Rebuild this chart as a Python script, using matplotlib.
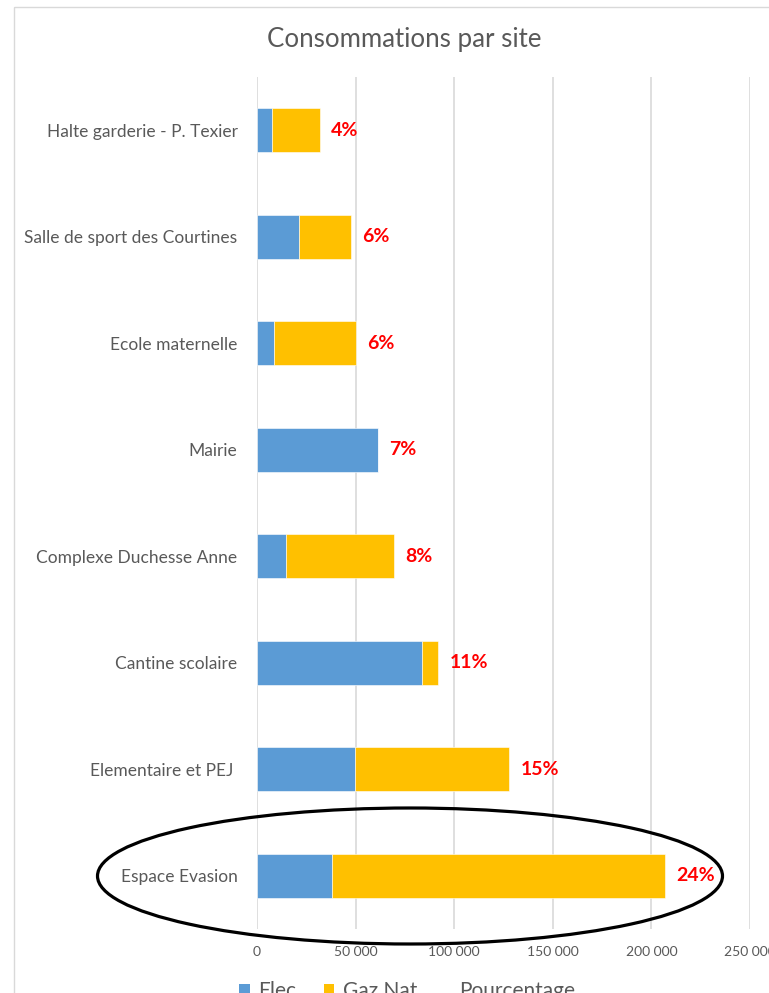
import matplotlib
matplotlib.use("Agg")
import matplotlib.pyplot as plt
from matplotlib.patches import Ellipse, Rectangle, Patch
from matplotlib.lines import Line2D
from matplotlib.ticker import FuncFormatter

# Consumption per site (kWh), listed top to bottom
sites = [
    "Halte garderie - P. Texier",
    "Salle de sport des Courtines",
    "Ecole maternelle",
    "Mairie",
    "Complexe Duchesse Anne",
    "Cantine scolaire",
    "Elementaire et PEJ ",
    "Espace Evasion",
]
elec = [7400, 21200, 8500, 61300, 14700, 83800, 49700, 37800]
gaz_nat = [24600, 26400, 41700, 0, 54700, 8100, 78300, 169000]
share_labels = ["4%", "6%", "6%", "7%", "8%", "11%", "15%", "24%"]
x_ticks = [0, 50000, 100000, 150000, 200000, 250000]

BLUE = "#5B9BD5"
GOLD = "#FFC000"
TEXT = "#595959"
GRID = "#D9D9D9"
FONT = "Lato"

W, H = 769, 993
fig = plt.figure(figsize=(W / 100, H / 100), dpi=100)
fig.patch.set_facecolor("white")

# chart area frame
fig.patches.append(Rectangle((14 / W, 1 - 7 / H), 2.0, -2.0, transform=fig.transFigure,
                             fill=False, edgecolor=GRID, linewidth=1.0, zorder=0))

ax = fig.add_axes([257 / W, 1 - 929 / H, (750 - 257) / W, (929 - 77) / H])
ax.set_facecolor("none")

pos = list(range(len(sites)))
ax.barh(pos, elec, height=0.41, color=BLUE, edgecolor="white", linewidth=0.4, zorder=3)
ax.barh(pos, gaz_nat, left=elec, height=0.41, color=GOLD, edgecolor="white",
        linewidth=0.4, zorder=3)

for i, (e, g, lab) in enumerate(zip(elec, gaz_nat, share_labels)):
    ax.annotate(lab, xy=(e + g, i), xytext=(8, 0), textcoords="offset points",
                ha="left", va="center", color="#FF0000", fontweight="bold",
                fontsize=14, family=FONT, zorder=4)

ax.set_xlim(0, 250000)
ax.set_ylim(len(sites) - 0.5, -0.5)
ax.set_xticks(x_ticks)
ax.xaxis.set_major_formatter(FuncFormatter(lambda v, p: f"{int(v):,}".replace(",", " ")))
ax.set_yticks(pos)
ax.set_yticklabels(sites)
ax.tick_params(axis="both", length=0, colors=TEXT)
ax.tick_params(axis="y", pad=14, labelsize=12.5)
ax.tick_params(axis="x", pad=12, labelsize=10)
for lab in ax.get_xticklabels() + ax.get_yticklabels():
    lab.set_family(FONT)
for s in ax.spines.values():
    s.set_visible(False)
ax.grid(axis="x", color=GRID, linewidth=1.2, zorder=0)
ax.set_axisbelow(True)

fig.text(404 / W, 1 - 40 / H, "Consommations par site", ha="center", va="center",
         fontsize=18.6, color=TEXT, family=FONT)

handles = [Patch(facecolor=BLUE, edgecolor="none"),
           Patch(facecolor=GOLD, edgecolor="none"),
           Line2D([], [], linestyle="none")]
fig.legend(handles, ["Elec.", "Gaz Nat", "Pourcentage"], loc="center",
           bbox_to_anchor=(407 / W, 1 - 991 / H), ncol=3, frameon=False,
           prop={"family": FONT, "size": 15}, labelcolor=TEXT,
           handlelength=0.5, handleheight=0.5, handletextpad=0.4, columnspacing=1.1)

# highlight around the largest consumer
fig.patches.append(Ellipse((410 / W, 1 - 876 / H), 625 / W, 136 / H,
                           transform=fig.transFigure, fill=False,
                           edgecolor="black", linewidth=2.3, zorder=10))

fig.savefig("out.png", dpi=100)
